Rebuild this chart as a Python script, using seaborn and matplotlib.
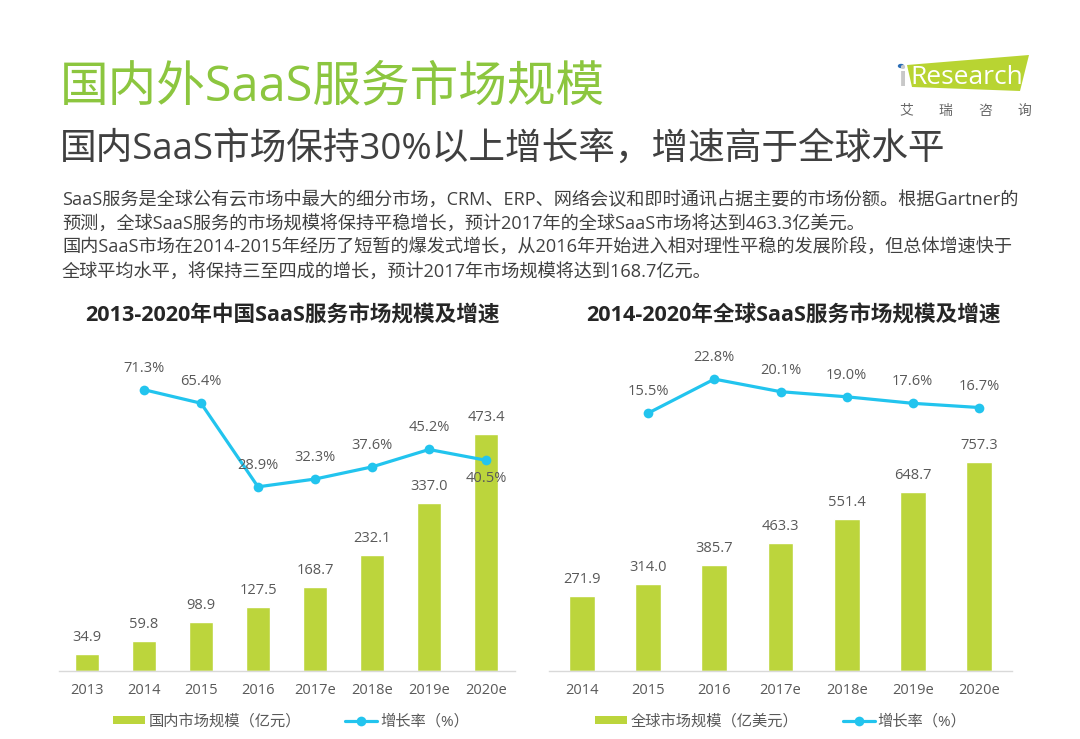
import matplotlib
matplotlib.use("Agg")
import matplotlib.pyplot as plt
import seaborn as sns
import pandas as pd
from matplotlib.patches import Patch, Polygon, Circle
from matplotlib.lines import Line2D

# ---------------- data ----------------
cn_years = ["2013", "2014", "2015", "2016", "2017e", "2018e", "2019e", "2020e"]
cn_size = [34.9, 59.8, 98.9, 127.5, 168.7, 232.1, 337.0, 473.4]
cn_growth_years = ["2014", "2015", "2016", "2017e", "2018e", "2019e", "2020e"]
cn_growth = [71.3, 65.4, 28.9, 32.3, 37.6, 45.2, 40.5]

gl_years = ["2014", "2015", "2016", "2017e", "2018e", "2019e", "2020e"]
gl_size = [271.9, 314.0, 385.7, 463.3, 551.4, 648.7, 757.3]
gl_growth_years = ["2015", "2016", "2017e", "2018e", "2019e", "2020e"]
gl_growth = [15.5, 22.8, 20.1, 19.0, 17.6, 16.7]

title = "国内外SaaS服务市场规模"
subtitle = "国内SaaS市场保持30%以上增长率，增速高于全球水平"
body_lines = [
    "SaaS服务是全球公有云市场中最大的细分市场，CRM、ERP、网络会议和即时通讯占据主要的市场份额。根据Gartner的",
    "预测，全球SaaS服务的市场规模将保持平稳增长，预计2017年的全球SaaS市场将达到463.3亿美元。",
    "国内SaaS市场在2014-2015年经历了短暂的爆发式增长，从2016年开始进入相对理性平稳的发展阶段，但总体增速快于",
    "全球平均水平，将保持三至四成的增长，预计2017年市场规模将达到168.7亿元。",
]
cn_title = "2013-2020年中国SaaS服务市场规模及增速"
gl_title = "2014-2020年全球SaaS服务市场规模及增速"
cn_bar_label = "国内市场规模（亿元）"
gl_bar_label = "全球市场规模（亿美元）"
growth_label = "增长率（%）"
logo_cn = ["艾", "瑞", "咨", "询"]

# ---------------- style ----------------
sns.set_theme(style="white")
plt.rcParams["font.family"] = ["Open Sans", "Noto Sans CJK SC", "DejaVu Sans"]

GREEN_BAR = "#bcd53c"
CYAN = "#22c4ee"
TITLE_GREEN = "#8cc63f"
TXT = "#595959"
DARK = "#404040"

W, H = 1080, 739
fig = plt.figure(figsize=(W / 100, H / 100), dpi=100)
fig.patch.set_facecolor("white")


def fx(px):
    return px / W


def fy(py):
    return 1 - py / H


# headings
fig.text(fx(60), fy(88), title, color=TITLE_GREEN, fontsize=35, va="center", ha="left")
fig.text(fx(60), fy(150), subtitle, color=DARK, fontsize=26.4, va="center", ha="left")
for i, line in enumerate(body_lines):
    fig.text(fx(62), fy(200 + 24 * i), line, color=DARK, fontsize=13.1, va="center", ha="left")

# logo
logo = Polygon([(fx(907), fy(65)), (fx(1029), fy(55)), (fx(1020), fy(91)), (fx(912), fy(87))],
               closed=True, transform=fig.transFigure, facecolor="#b8d432", edgecolor="none")
fig.patches.append(logo)
fig.patches.append(Circle((fx(901), fy(66)), 3.2 / W, transform=fig.transFigure,
                          facecolor="#2a6db5", edgecolor="none"))
fig.text(fx(898), fy(79), "i", color="#c8c8c8", fontsize=19, va="center", ha="left", fontweight="bold")
fig.text(fx(910), fy(78), "Research", color="white", fontsize=19, va="center", ha="left")
for k, ch in enumerate(logo_cn):
    fig.text(fx(906 + 39.5 * k), fy(111), ch, color="#666666", fontsize=10, va="center", ha="center")


def make_chart(rect, cats, sizes, gcats, growth, y1max, y2lim, ctitle, blabel, title_x, leg_x, bw, below=None):
    ax = fig.add_axes(rect)
    df = pd.DataFrame({"year": cats, "size": sizes})
    sns.barplot(data=df, x="year", y="size", order=cats, color=GREEN_BAR, width=bw,
                saturation=1, ax=ax)
    ax.set_ylim(0, y1max)
    ax.set_xlim(-0.5, len(cats) - 0.5)
    for s in ["top", "right", "left"]:
        ax.spines[s].set_visible(False)
    ax.spines["bottom"].set_color("#d9d9d9")
    ax.spines["bottom"].set_linewidth(1.0)
    ax.set_yticks([])
    ax.set_xlabel("")
    ax.set_ylabel("")
    ax.tick_params(axis="x", length=0, pad=9, labelsize=10.5, labelcolor=TXT)
    for i, v in enumerate(sizes):
        ax.annotate(f"{v:.1f}", (i, v), xytext=(0, 9), textcoords="offset pixels",
                    ha="center", va="bottom", fontsize=10.5, color=TXT)

    ax2 = ax.twinx()
    xs = [cats.index(c) for c in gcats]
    gdf = pd.DataFrame({"x": xs, "g": growth})
    sns.lineplot(data=gdf, x="x", y="g", color=CYAN, linewidth=2.3, marker="o",
                 markersize=7, markeredgewidth=0, ax=ax2)
    ax2.set_ylim(*y2lim)
    ax2.set_xlim(-0.5, len(cats) - 0.5)
    ax2.axis("off")
    for c, x, g in zip(gcats, xs, growth):
        if below is not None and c == below:
            ax2.annotate(f"{g:.1f}%", (x, g), xytext=(0, -11), textcoords="offset pixels",
                         ha="center", va="top", fontsize=10.5, color=TXT)
        else:
            ax2.annotate(f"{g:.1f}%", (x, g), xytext=(0, 14), textcoords="offset pixels",
                         ha="center", va="bottom", fontsize=10.5, color=TXT)

    fig.text(fx(title_x), fy(316), ctitle, ha="center", va="center", fontsize=15.6,
             fontweight="bold", color="#262626")
    handles = [Patch(facecolor=GREEN_BAR, edgecolor="none"),
               Line2D([], [], color=CYAN, linewidth=2.3, marker="o", markersize=7, markeredgewidth=0)]
    fig.legend(handles, [blabel, growth_label], loc="center", bbox_to_anchor=(fx(leg_x), fy(722)),
               ncol=2, frameon=False, fontsize=11, handlelength=2.1, handleheight=0.45,
               columnspacing=2.9, handletextpad=0.2, labelcolor=TXT)
    return ax, ax2


top, bot = 340, 671
make_chart([fx(58.5), fy(bot), fx(514.5) - fx(58.5), (bot - top) / H], cn_years, cn_size,
           cn_growth_years, cn_growth, (bot - top) / 0.5, (-51.5, 93.0), cn_title, cn_bar_label,
           292, 291, 0.41, below="2020e")
make_chart([fx(549), fy(bot), fx(1012) - fx(549), (bot - top) / H], gl_years, gl_size,
           gl_growth_years, gl_growth, (bot - top) / 0.276, (-39.9, 31.2), gl_title, gl_bar_label,
           793, 781, 0.39)

fig.savefig("out.png", dpi=100, facecolor="white")
